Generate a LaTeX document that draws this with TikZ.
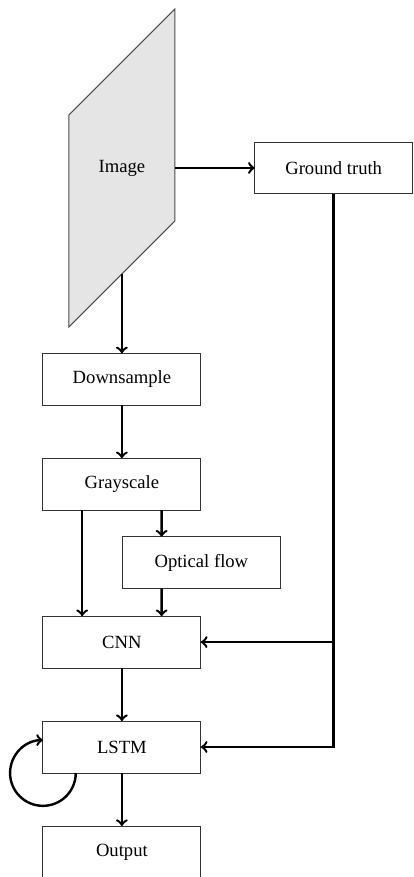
\documentclass[tikz,border=0pt]{standalone}
\usepackage{fontspec}
\setmainfont{Liberation Serif}
\usetikzlibrary{positioning,calc}

\begin{document}
\begin{tikzpicture}[
    box/.style={draw=black!80,line width=0.5pt,minimum width=2.98cm,minimum height=0.98cm,
                inner sep=2pt,outer sep=0pt},
    flow/.style={->,line width=1.3pt}]

  % Fixed frame (the output box runs off the bottom edge)
  \useasboundingbox (0,0) rectangle (7.81,-16.55);

  % --- Input image: a slanted sheet with the label in its middle ---
  \node[minimum width=2cm,minimum height=4cm,inner sep=0pt] (img) at (2.3,-3.17) {};
  \fill[gray!20,draw=black!70,line width=0.5pt]
    ($(img.center)+(-1,1)$) -- ($(img.center)+(1,3)$)
    -- ($(img.center)+(1,-1)$) -- ($(img.center)+(-1,-3)$) -- cycle;
  \node at (img.center) {Image};

  % --- Processing chain ---
  \node[box,right=1.5cm of img] (gt) {Ground truth};
  \node[box,below=1.49cm of img] (down) {Downsample};
  \node[box,below=1cm of down] (gray) {Grayscale};
  \node[box,below=0.5cm of gray,xshift=1.5cm] (optical) {Optical flow};
  \node[box,below=2cm of gray] (cnn) {CNN};
  \node[box,below=1cm of cnn] (lstm) {LSTM};
  \node[box,below=1cm of lstm] (out) {Output};

  % --- Connectors ---
  \draw[flow] (img.east) -- (gt.west);
  \draw[flow] (img.south) -- (down.north);
  \draw[flow] (down) -- (gray);
  \draw[flow] ([xshift=-0.75cm]gray.south) -- ([xshift=-0.75cm]cnn.north);
  \draw[flow] ([xshift=0.75cm]gray.south) -- ([xshift=-0.75cm]optical.north);
  \draw[flow] ([xshift=-0.75cm]optical.south) -- ([xshift=0.75cm]cnn.north);
  \draw[flow] (cnn) -- (lstm);
  \draw[flow] (lstm) -- (out);

  % Ground truth feeds both CNN and LSTM
  \coordinate (branch) at (gt.south |- cnn.east);
  \draw[flow] (gt.south) |- (lstm.east);
  \draw[flow] (branch) -- (cnn.east);

  % Recurrent loop on the LSTM
  \draw[flow] ([xshift=0.62cm]lstm.south west)
    arc[start angle=0,end angle=-270,radius=0.62cm];

\end{tikzpicture}
\end{document}
